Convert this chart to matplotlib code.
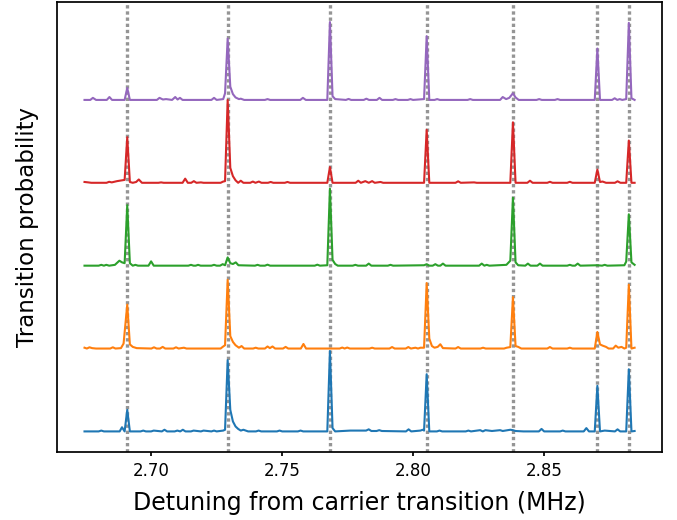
import matplotlib
matplotlib.use("Agg")
import matplotlib.pyplot as plt

# Transition frequencies (MHz) marked by dotted lines
lines_x = [2.6909, 2.7292, 2.7682, 2.8051, 2.8380, 2.8702, 2.8822]

# Series vertices (x in MHz, y = transition probability before vertical offset)
blue_x = [2.6746, 2.6800, 2.6810, 2.6820, 2.6880, 2.6889, 2.6899, 2.6909, 2.6919, 2.6960, 2.6970, 2.6980,
          2.7000, 2.7010, 2.7041, 2.7051, 2.7061, 2.7090, 2.7100, 2.7111, 2.7121, 2.7131, 2.7152, 2.7162,
          2.7190, 2.7200, 2.7230, 2.7240, 2.7250, 2.7275, 2.7282, 2.7292, 2.7302, 2.7312, 2.7322, 2.7332,
          2.7342, 2.7352, 2.7370, 2.7400, 2.7410, 2.7420, 2.7480, 2.7490, 2.7500, 2.7560, 2.7570, 2.7580,
          2.7672, 2.7682, 2.7692, 2.7702, 2.7760, 2.7800, 2.7820, 2.7830, 2.7840, 2.7860, 2.7870, 2.7880,
          2.7972, 2.7982, 2.7992, 2.8027, 2.8036, 2.8041, 2.8051, 2.8061, 2.8090, 2.8100, 2.8110, 2.8200,
          2.8210, 2.8220, 2.8255, 2.8265, 2.8275, 2.8300, 2.8331, 2.8341, 2.8370, 2.8380, 2.8390, 2.8420,
          2.8479, 2.8489, 2.8499, 2.8540, 2.8560, 2.8570, 2.8580, 2.8650, 2.8660, 2.8670, 2.8692, 2.8702,
          2.8712, 2.8730, 2.8769, 2.8779, 2.8789, 2.8812, 2.8822, 2.8832, 2.8844]
blue_y = [0.0, 0.0, 0.01, 0.0, 0.0, 0.05, 0.0, 0.26, 0.0, 0.0, 0.01, 0.0,
          0.0, 0.01, 0.0, 0.02, 0.0, 0.0, 0.01, 0.0, 0.02, 0.0, 0.0, 0.01,
          0.0, 0.01, 0.0, 0.01, 0.0, 0.01, 0.02, 0.86, 0.26, 0.12, 0.06, 0.03,
          0.01, 0.02, 0.0, 0.0, 0.01, 0.0, 0.0, 0.01, 0.0, 0.0, 0.01, 0.0,
          0.0, 0.97, 0.04, 0.0, 0.01, 0.01, 0.01, 0.025, 0.005, 0.005, 0.015, 0.005,
          0.0, 0.025, 0.0, 0.01, 0.02, 0.01, 0.69, 0.0, 0.0, 0.01, 0.0, 0.0,
          0.01, 0.0, 0.015, 0.0, 0.015, 0.005, 0.015, 0.005, 0.02, 0.015, 0.005, 0.0,
          0.0, 0.03, 0.0, 0.0, 0.0, 0.01, 0.0, 0.0, 0.04, 0.0, 0.0, 0.55,
          0.0, 0.01, 0.0, 0.025, 0.0, 0.0, 0.75, 0.0, 0.005]

orange_x = [2.6746, 2.6755, 2.6765, 2.6775, 2.6790, 2.6844, 2.6854, 2.6864, 2.6885, 2.6895, 2.6909, 2.6919,
            2.6930, 2.6945, 2.7001, 2.7011, 2.7021, 2.7034, 2.7044, 2.7054, 2.7085, 2.7095, 2.7105, 2.7115,
            2.7125, 2.7135, 2.7265, 2.7275, 2.7282, 2.7292, 2.7302, 2.7312, 2.7322, 2.7335, 2.7345, 2.7355,
            2.7389, 2.7399, 2.7409, 2.7434, 2.7444, 2.7453, 2.7463, 2.7473, 2.7503, 2.7513, 2.7523, 2.7571,
            2.7581, 2.7591, 2.7719, 2.7729, 2.7738, 2.7748, 2.7758, 2.7833, 2.7843, 2.7853, 2.7909, 2.7919,
            2.7929, 2.7971, 2.7981, 2.7991, 2.8008, 2.8018, 2.8027, 2.8041, 2.8051, 2.8061, 2.8071, 2.8081,
            2.8093, 2.8103, 2.8113, 2.8161, 2.8171, 2.8181, 2.8256, 2.8266, 2.8276, 2.8346, 2.8356, 2.8370,
            2.8380, 2.8390, 2.8400, 2.8412, 2.8511, 2.8521, 2.8531, 2.8587, 2.8597, 2.8607, 2.8692, 2.8702,
            2.8712, 2.8722, 2.8735, 2.8745, 2.8762, 2.8772, 2.8782, 2.8794, 2.8805, 2.8812, 2.8822, 2.8832,
            2.8844]
orange_y = [0.01, 0.0, 0.015, 0.005, 0.0, 0.0, 0.015, 0.0, 0.005, 0.06, 0.53, 0.05,
            0.02, 0.005, 0.0, 0.015, 0.0, 0.0, 0.02, 0.0, 0.0, 0.015, 0.0, 0.005,
            0.01, 0.0, 0.0, 0.025, 0.04, 0.83, 0.15, 0.08, 0.04, 0.01, 0.03, 0.0,
            0.0, 0.01, 0.0, 0.0, 0.025, 0.005, 0.025, 0.0, 0.0, 0.02, 0.0, 0.0,
            0.055, 0.0, 0.0, 0.012, 0.0, 0.012, 0.0, 0.0, 0.01, 0.0, 0.0, 0.018,
            0.0, 0.0, 0.018, 0.0, 0.01, 0.0, 0.01, 0.01, 0.79, 0.12, 0.03, 0.01,
            0.02, 0.052, 0.005, 0.0, 0.018, 0.0, 0.0, 0.01, 0.0, 0.0, 0.01, 0.018,
            0.62, 0.03, 0.02, 0.0, 0.0, 0.018, 0.0, 0.0, 0.01, 0.0, 0.0, 0.2,
            0.05, 0.035, 0.02, 0.0, 0.0, 0.035, 0.01, 0.02, 0.0, 0.01, 0.77, 0.0,
            0.01]

green_x = [2.6746, 2.6800, 2.6810, 2.6820, 2.6829, 2.6840, 2.6862, 2.6879, 2.6889, 2.6899, 2.6909, 2.6919,
           2.6930, 2.6940, 2.6950, 2.6990, 2.7000, 2.7010, 2.7020, 2.7142, 2.7152, 2.7162, 2.7170, 2.7179,
           2.7189, 2.7230, 2.7240, 2.7250, 2.7263, 2.7273, 2.7282, 2.7292, 2.7302, 2.7312, 2.7323, 2.7333,
           2.7396, 2.7406, 2.7416, 2.7434, 2.7444, 2.7454, 2.7624, 2.7634, 2.7644, 2.7672, 2.7682, 2.7692,
           2.7702, 2.7712, 2.7769, 2.7779, 2.7789, 2.7820, 2.7830, 2.7840, 2.7903, 2.7913, 2.7923, 2.8041,
           2.8051, 2.8061, 2.8074, 2.8084, 2.8094, 2.8103, 2.8113, 2.8123, 2.8251, 2.8261, 2.8271, 2.8280,
           2.8290, 2.8355, 2.8370, 2.8380, 2.8390, 2.8400, 2.8427, 2.8437, 2.8447, 2.8473, 2.8483, 2.8493,
           2.8587, 2.8597, 2.8607, 2.8617, 2.8627, 2.8637, 2.8702, 2.8720, 2.8730, 2.8740, 2.8805, 2.8812,
           2.8822, 2.8832, 2.8844]
green_y = [0.0, 0.0, 0.01, 0.0, 0.01, 0.0, 0.01, 0.06, 0.04, 0.03, 0.73, 0.03,
           0.0, 0.01, 0.0, 0.0, 0.052, 0.0, 0.0, 0.0, 0.01, 0.0, 0.0, 0.01,
           0.0, 0.0, 0.01, 0.0, 0.0, 0.018, 0.005, 0.1, 0.03, 0.02, 0.04, 0.005,
           0.0, 0.01, 0.0, 0.0, 0.012, 0.0, 0.0, 0.012, 0.0, 0.005, 0.93, 0.07,
           0.02, 0.0, 0.0, 0.01, 0.0, 0.0, 0.025, 0.0, 0.0, 0.01, 0.0, 0.005,
           0.018, 0.0, 0.0, 0.018, 0.0, 0.0, 0.025, 0.0, 0.0, 0.025, 0.0, 0.01,
           0.0, 0.01, 0.06, 0.82, 0.04, 0.005, 0.0, 0.025, 0.0, 0.0, 0.025, 0.0,
           0.0, 0.01, 0.0, 0.0, 0.025, 0.0, 0.005, 0.0, 0.01, 0.0, 0.005, 0.05,
           0.62, 0.04, 0.01]

red_x = [2.6746, 2.6760, 2.6772, 2.6830, 2.6840, 2.6850, 2.6870, 2.6899, 2.6909, 2.6919, 2.6930, 2.6943,
         2.6953, 2.6965, 2.7028, 2.7038, 2.7048, 2.7120, 2.7130, 2.7140, 2.7153, 2.7163, 2.7173, 2.7190,
         2.7200, 2.7265, 2.7275, 2.7282, 2.7292, 2.7302, 2.7312, 2.7322, 2.7332, 2.7342, 2.7352, 2.7378,
         2.7388, 2.7398, 2.7411, 2.7421, 2.7446, 2.7456, 2.7466, 2.7510, 2.7520, 2.7530, 2.7672, 2.7682,
         2.7692, 2.7780, 2.7790, 2.7800, 2.7817, 2.7830, 2.7843, 2.7853, 2.7875, 2.7885, 2.8041, 2.8051,
         2.8061, 2.8161, 2.8171, 2.8181, 2.8232, 2.8242, 2.8370, 2.8380, 2.8390, 2.8435, 2.8445, 2.8455,
         2.8511, 2.8521, 2.8531, 2.8587, 2.8597, 2.8607, 2.8692, 2.8702, 2.8712, 2.8722, 2.8735, 2.8769,
         2.8779, 2.8790, 2.8812, 2.8822, 2.8832, 2.8844]
red_y = [0.01, 0.005, 0.0, 0.0, 0.012, 0.005, 0.02, 0.035, 0.55, 0.01, 0.0, 0.01,
         0.04, 0.0, 0.0, 0.005, 0.0, 0.0, 0.05, 0.0, 0.0, 0.02, 0.0, 0.005,
         0.0, 0.0, 0.015, 0.02, 1.0, 0.18, 0.08, 0.03, 0.0, 0.025, 0.0, 0.0,
         0.015, 0.0, 0.015, 0.0, 0.0, 0.01, 0.0, 0.0, 0.01, 0.0, 0.0, 0.19,
         0.0, 0.0, 0.025, 0.0, 0.02, 0.0, 0.02, 0.0, 0.01, 0.0, 0.0, 0.64,
         0.0, 0.0, 0.018, 0.0, 0.005, 0.0, 0.0, 0.73, 0.0, 0.0, 0.025, 0.0,
         0.0, 0.012, 0.0, 0.0, 0.012, 0.0, 0.0, 0.16, 0.01, 0.015, 0.0, 0.0,
         0.018, 0.0, 0.0, 0.51, 0.0, 0.0]

purple_x = [2.6746, 2.6768, 2.6778, 2.6790, 2.6831, 2.6841, 2.6851, 2.6899, 2.6909, 2.6919, 2.7022, 2.7032,
            2.7045, 2.7057, 2.7080, 2.7092, 2.7101, 2.7110, 2.7120, 2.7230, 2.7240, 2.7250, 2.7275, 2.7282,
            2.7292, 2.7302, 2.7312, 2.7322, 2.7335, 2.7342, 2.7355, 2.7434, 2.7444, 2.7454, 2.7569, 2.7579,
            2.7590, 2.7672, 2.7682, 2.7692, 2.7702, 2.7743, 2.7753, 2.7763, 2.7811, 2.7821, 2.7831, 2.7861,
            2.7871, 2.7881, 2.7922, 2.7932, 2.7942, 2.7979, 2.7989, 2.7999, 2.8041, 2.8051, 2.8061, 2.8081,
            2.8091, 2.8101, 2.8207, 2.8217, 2.8227, 2.8331, 2.8341, 2.8354, 2.8366, 2.8380, 2.8390, 2.8402,
            2.8470, 2.8480, 2.8490, 2.8540, 2.8550, 2.8560, 2.8692, 2.8702, 2.8712, 2.8758, 2.8768, 2.8778,
            2.8787, 2.8797, 2.8812, 2.8822, 2.8832, 2.8844]
purple_y = [0.0, 0.0, 0.025, 0.0, 0.0, 0.035, 0.0, 0.0, 0.145, 0.0, 0.0, 0.025,
            0.005, 0.01, 0.0, 0.035, 0.005, 0.025, 0.0, 0.0, 0.025, 0.0, 0.01, 0.08,
            0.74, 0.16, 0.07, 0.03, 0.01, 0.015, 0.0, 0.0, 0.01, 0.0, 0.0, 0.025,
            0.0, 0.0, 0.94, 0.045, 0.01, 0.0, 0.012, 0.0, 0.0, 0.015, 0.0, 0.0,
            0.025, 0.0, 0.0, 0.01, 0.0, 0.0, 0.01, 0.0, 0.01, 0.77, 0.0, 0.0,
            0.01, 0.0, 0.0, 0.01, 0.0, 0.0, 0.035, 0.01, 0.025, 0.08, 0.03, 0.0,
            0.0, 0.01, 0.0, 0.0, 0.01, 0.0, 0.0, 0.62, 0.0, 0.0, 0.02, 0.0,
            0.01, 0.0, 0.01, 0.93, 0.02, 0.0]

series_x = [blue_x, orange_x, green_x, red_x, purple_x]
series_y = [blue_y, orange_y, green_y, red_y, purple_y]
offsets = [0, 1, 2, 3, 4]
colors = ["#1f77b4", "#ff7f0e", "#2ca02c", "#d62728", "#9467bd"]

fig = plt.figure(figsize=(6.77, 5.20), dpi=100)
ax = fig.add_axes([0.0842, 0.131, 0.8938, 0.866])

for lx in lines_x:
    ax.axvline(lx, color="#959595", linestyle=(0, (1, 0.85)), lw=2.4, zorder=1)

for xs, ys, off, c in zip(series_x, series_y, offsets, colors):
    ax.plot(xs, [v + off for v in ys], color=c, lw=1.5, zorder=2)

ax.set_yticks([])
ax.set_xticks([2.70, 2.75, 2.80, 2.85])
ax.set_xticklabels(["2.70", "2.75", "2.80", "2.85"])
ax.tick_params(axis="x", labelsize=12, width=1.25, length=3.2, pad=4)
for s in ax.spines.values():
    s.set_linewidth(1.25)
ax.set_xlabel("Detuning from carrier transition (MHz)", fontsize=17, labelpad=8)
ax.set_ylabel("Transition probability", fontsize=16.5, labelpad=13)

fig.savefig("out.png", dpi=100)
